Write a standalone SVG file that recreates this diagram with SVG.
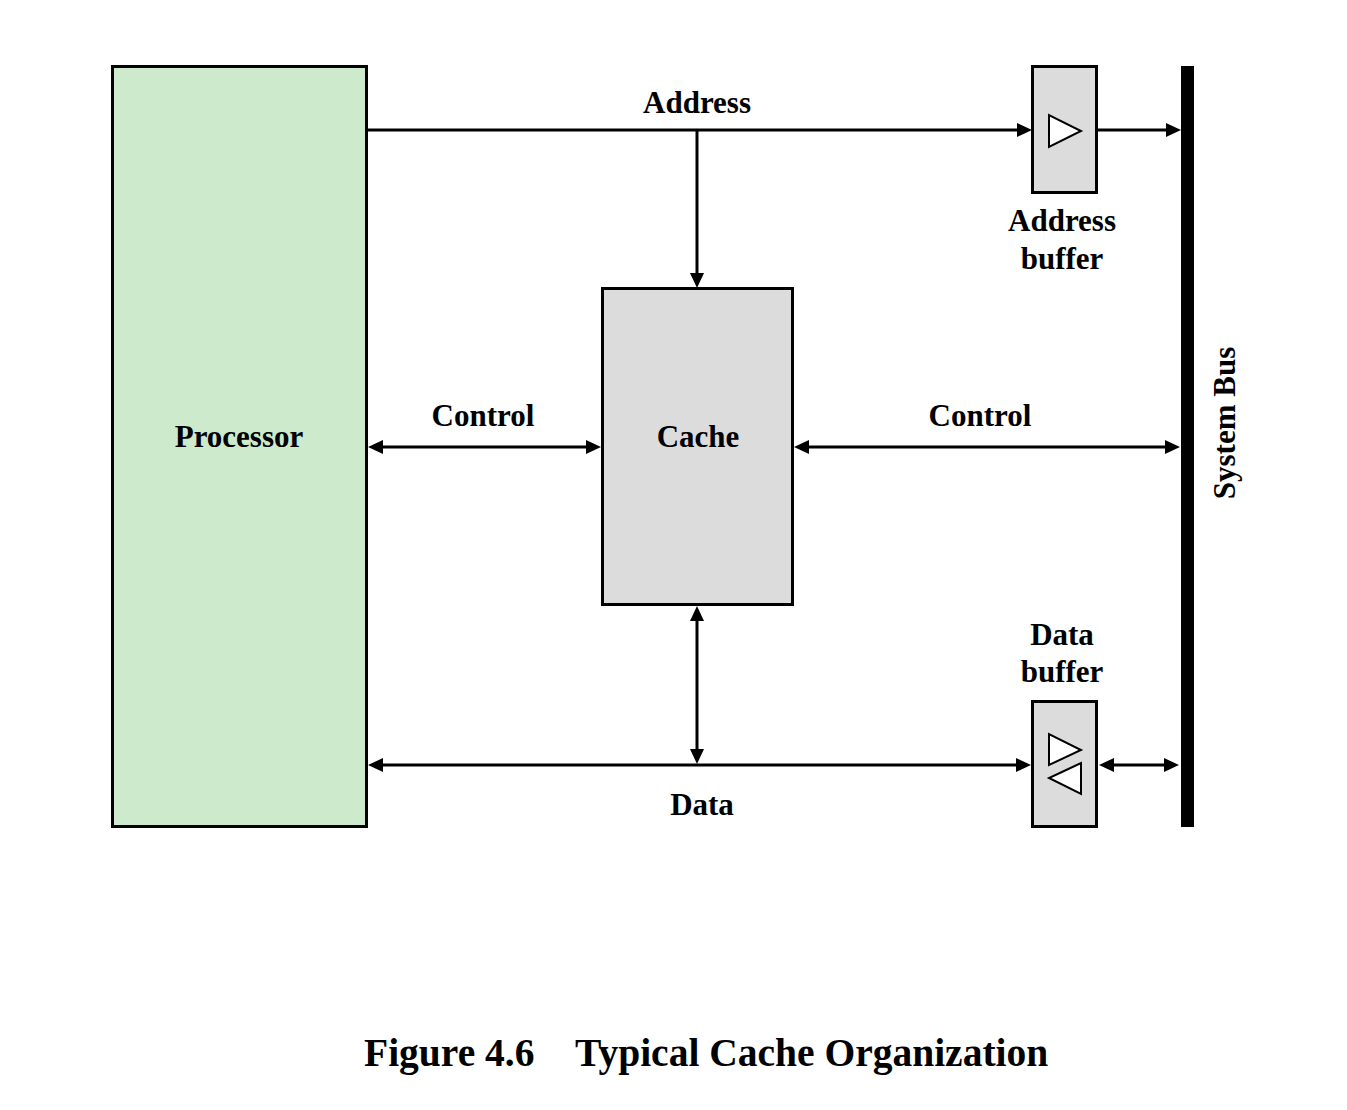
<svg xmlns="http://www.w3.org/2000/svg" width="1347" height="1110" viewBox="0 0 1347 1110">
<style>
.box{stroke:#000;stroke-width:3}
.proc{fill:#cdeacc}
.gray{fill:#dcdcdc}
.tri{fill:#fff;stroke:#000;stroke-width:2}
.ln{stroke:#000;stroke-width:3;fill:none}
text{font-family:"Liberation Serif","Times New Roman",serif;font-weight:bold;font-size:31px;fill:#000}
.c{text-anchor:middle}
.title{font-size:39.5px}
</style>
<defs>
<marker id="ah" markerUnits="userSpaceOnUse" markerWidth="16" markerHeight="14" refX="1" refY="7" orient="auto-start-reverse" viewBox="0 0 16 14">
<path d="M0,0 L15,7 L0,14 z" fill="#000"/>
</marker>
</defs>
<rect width="1347" height="1110" fill="#fff"/>
<g id="processor">
<rect class="box proc" x="112.5" y="66.5" width="254" height="760"/>
<text class="c" x="239" y="447">Processor</text>
</g>
<g id="cache">
<rect class="box gray" x="602.5" y="288.5" width="190" height="316"/>
<text class="c" x="698" y="447">Cache</text>
</g>
<g id="address-buffer">
<rect class="box gray" x="1032.5" y="66.5" width="64" height="126"/>
<polygon class="tri" points="1049,115 1049,147 1081,131"/>
<text class="c" x="1062" y="231">Address</text>
<text class="c" x="1062" y="269">buffer</text>
</g>
<g id="data-buffer">
<rect class="box gray" x="1032.5" y="701.5" width="64" height="125"/>
<polygon class="tri" points="1049,734 1049,765 1081,750"/>
<polygon class="tri" points="1081,763 1081,794 1049,778"/>
<text class="c" x="1062" y="645">Data</text>
<text class="c" x="1062" y="682">buffer</text>
</g>
<g id="system-bus">
<rect x="1181" y="66" width="13" height="761" fill="#000"/>
<text class="c" transform="translate(1235,423) rotate(-90)">System Bus</text>
</g>
<g id="connectors">
<line class="ln" x1="367" y1="130" x2="1018" y2="130" marker-end="url(#ah)"/>
<line class="ln" x1="697" y1="130" x2="697" y2="274" marker-end="url(#ah)"/>
<line class="ln" x1="1097" y1="130" x2="1167" y2="130" marker-end="url(#ah)"/>
<line class="ln" x1="382" y1="447" x2="587" y2="447" marker-start="url(#ah)" marker-end="url(#ah)"/>
<line class="ln" x1="808" y1="447" x2="1166" y2="447" marker-start="url(#ah)" marker-end="url(#ah)"/>
<line class="ln" x1="382" y1="765" x2="1017" y2="765" marker-start="url(#ah)" marker-end="url(#ah)"/>
<line class="ln" x1="697" y1="620" x2="697" y2="750" marker-start="url(#ah)" marker-end="url(#ah)"/>
<line class="ln" x1="1113" y1="765" x2="1165" y2="765" marker-start="url(#ah)" marker-end="url(#ah)"/>
<text class="c" x="697" y="113">Address</text>
<text class="c" x="483" y="426">Control</text>
<text class="c" x="980" y="426">Control</text>
<text class="c" x="702" y="815">Data</text>
</g>
<text class="title" x="364" y="1066">Figure 4.6</text>
<text class="title" x="575" y="1066">Typical Cache Organization</text>
</svg>
